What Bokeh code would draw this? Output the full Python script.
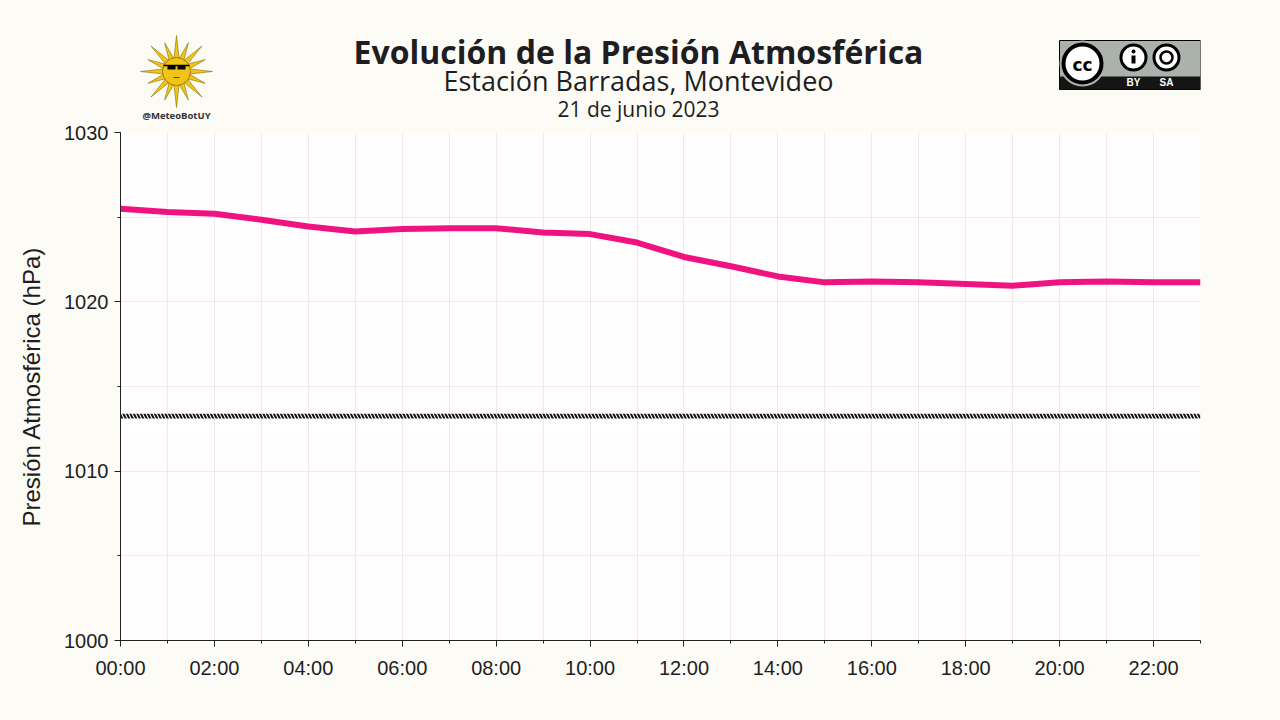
import numpy as np
from bokeh.plotting import figure
from bokeh.layouts import column
from bokeh.models import Range1d, FixedTicker
from bokeh.core.properties import value
from bokeh.embed import file_html
from bokeh.resources import INLINE

# ---------------- data ----------------
hours = list(range(24))
pressure = [1025.5, 1025.3, 1025.2, 1024.85, 1024.45, 1024.15, 1024.3, 1024.35,
            1024.35, 1024.1, 1024.0, 1023.5, 1022.65, 1022.1, 1021.5, 1021.15,
            1021.2, 1021.15, 1021.05, 1020.95, 1021.15, 1021.2, 1021.15, 1021.15]
standard_pressure = 1013.25
x_major_ticks = [0, 2, 4, 6, 8, 10, 12, 14, 16, 18, 20, 22]
x_tick_labels = ["00:00", "02:00", "04:00", "06:00", "08:00", "10:00", "12:00",
                 "14:00", "16:00", "18:00", "20:00", "22:00"]
y_major_ticks = [1000, 1010, 1020, 1030]
y_minor_ticks = [1000, 1005, 1010, 1015, 1020, 1025, 1030]

title_text = "Evolución de la Presión Atmosférica"
subtitle_text = "Estación Barradas, Montevideo"
date_text = "21 de junio 2023"
handle_text = "@MeteoBotUY"

BG = "#fcfbf6"
PLOT_BG = "#fffdfd"
TXT = "#1e1e22"

W = 1280
HEAD_H = 123
MAIN_H = 589
BL, BR = 120, 80

# ---------------- header (data coords == page pixels) ----------------
h = figure(width=W, height=HEAD_H, x_range=Range1d(BL, W - BR), y_range=Range1d(HEAD_H, 0),
           output_backend="svg", toolbar_location=None, min_border=0,
           min_border_left=BL, min_border_right=BR,
           background_fill_color=BG, border_fill_color=BG, outline_line_color=None)
h.axis.visible = False
h.grid.visible = False

h.text(x=[638], y=[51], text=[title_text], text_font=value("Open Sans"),
       text_font_size="32px", text_font_style="bold", text_color=TXT,
       text_align="center", text_baseline="middle")
h.text(x=[638], y=[80], text=[subtitle_text], text_font=value("Open Sans"),
       text_font_size="27px", text_color=TXT, text_align="center", text_baseline="middle")
h.text(x=[638], y=[108], text=[date_text], text_font=value("Open Sans"),
       text_font_size="21px", text_color=TXT, text_align="center", text_baseline="middle")

# sun logo
cx, cy = 176, 71
n = 16
xs, ys = [], []
for i in range(n):
    a = 2 * np.pi * i / n - np.pi / 2
    r_out = 36 if i % 2 == 0 else 31
    hw = 0.2
    xs.append([cx + 13 * np.cos(a - hw), cx + r_out * np.cos(a), cx + 13 * np.cos(a + hw)])
    ys.append([cy + 13 * np.sin(a - hw), cy + r_out * np.sin(a), cy + 13 * np.sin(a + hw)])
h.patches(xs, ys, fill_color="#f0c419", line_color="#8a6d00", line_width=0.6)
h.scatter([cx], [cy], size=28, fill_color="#f0c419", line_color="#8a6d00", line_width=0.8)
h.rect([cx - 5, cx + 5], [cy - 4, cy - 4], width=8, height=4, fill_color="black", line_color=None)
h.segment([cx - 13], [cy - 6], [cx + 13], [cy - 6], line_color="black", line_width=1.5)
h.segment([cx - 3], [cy + 6], [cx + 3], [cy + 6], line_color="#6a4a00", line_width=1)
h.text(x=[cx], y=[115], text=[handle_text], text_font=value("Open Sans"),
       text_font_size="9.5px", text_font_style="bold", text_color="#333333",
       text_align="center", text_baseline="middle")

# CC BY-SA badge
bx0, bx1, by0, by1 = 1059, 1200, 40, 89
h.quad(left=[bx0], right=[bx1], top=[by0], bottom=[by1], fill_color="#abb2ab",
       line_color="black", line_width=1)
h.quad(left=[bx0], right=[bx1], top=[76], bottom=[by1], fill_color="#151515", line_color=None)
h.scatter([1082], [63], size=46, fill_color="#abb2ab", line_color=None)
h.scatter([1082], [63], size=38, fill_color="white", line_color="black", line_width=4)
h.text(x=[1082], y=[64], text=["cc"], text_font=value("DejaVu Sans"), text_font_size="17px",
       text_font_style="bold", text_color="black", text_align="center", text_baseline="middle")
h.scatter([1133, 1166], [57, 57], size=25, fill_color="white", line_color="black", line_width=3)
h.scatter([1133], [51], size=4, fill_color="black", line_color=None)
h.rect([1133], [59], width=4, height=8, fill_color="black", line_color=None)
h.scatter([1166], [57], size=12, fill_color="white", line_color="black", line_width=2.5)
h.text(x=[1133, 1166], y=[82, 82], text=["BY", "SA"], text_font=value("Liberation Sans"),
       text_font_size="10px", text_font_style="bold", text_color="white",
       text_align="center", text_baseline="middle")

# ---------------- main plot ----------------
p = figure(width=W, height=MAIN_H, x_range=Range1d(0, 23), y_range=Range1d(1000, 1030),
           output_backend="svg", toolbar_location=None,
           min_border_left=BL, min_border_right=BR, min_border_top=9, min_border_bottom=72,
           background_fill_color=PLOT_BG, border_fill_color=BG, outline_line_color=None)

p.xaxis.ticker = FixedTicker(ticks=x_major_ticks, minor_ticks=hours)
p.xaxis.major_label_overrides = {t: l for t, l in zip(x_major_ticks, x_tick_labels)}
p.yaxis.ticker = FixedTicker(ticks=y_major_ticks, minor_ticks=y_minor_ticks)

for ax in (p.xaxis[0], p.yaxis[0]):
    ax.axis_line_color = "#222222"
    ax.axis_line_width = 1
    ax.major_tick_line_color = "#222222"
    ax.minor_tick_line_color = "#222222"
    ax.major_tick_out = 6
    ax.major_tick_in = 0
    ax.minor_tick_out = 3
    ax.minor_tick_in = 0
    ax.major_label_text_font = "Liberation Sans"
    ax.major_label_text_font_size = "20px"
    ax.major_label_text_color = TXT

p.xaxis.major_label_standoff = 10
p.yaxis.major_label_standoff = 6
p.yaxis.axis_label = "Presión Atmosférica (hPa)"
p.yaxis.axis_label_text_font = "Liberation Sans"
p.yaxis.axis_label_text_font_size = "24px"
p.yaxis.axis_label_text_font_style = "normal"
p.yaxis.axis_label_text_color = TXT
p.yaxis.axis_label_standoff = 16

p.xgrid.ticker = FixedTicker(ticks=hours)
p.ygrid.ticker = FixedTicker(ticks=y_minor_ticks)
p.grid.grid_line_color = "#ecebe6"
p.grid.grid_line_width = 1

# standard pressure hatched band
p.quad(left=[0], right=[23], bottom=[standard_pressure - 0.14], top=[standard_pressure + 0.14],
       fill_color=None, line_color=None, hatch_pattern="\\", hatch_color="#111111",
       hatch_scale=7, hatch_weight=2)

p.line(hours, pressure, line_color="#f0137f", line_width=6, line_join="round")

layout = column(h, p, spacing=0)

html = file_html(layout, INLINE)
html = html.replace("<body>", '<body style="background:%s;">' % BG)
open("out.html", "w").write(html)
